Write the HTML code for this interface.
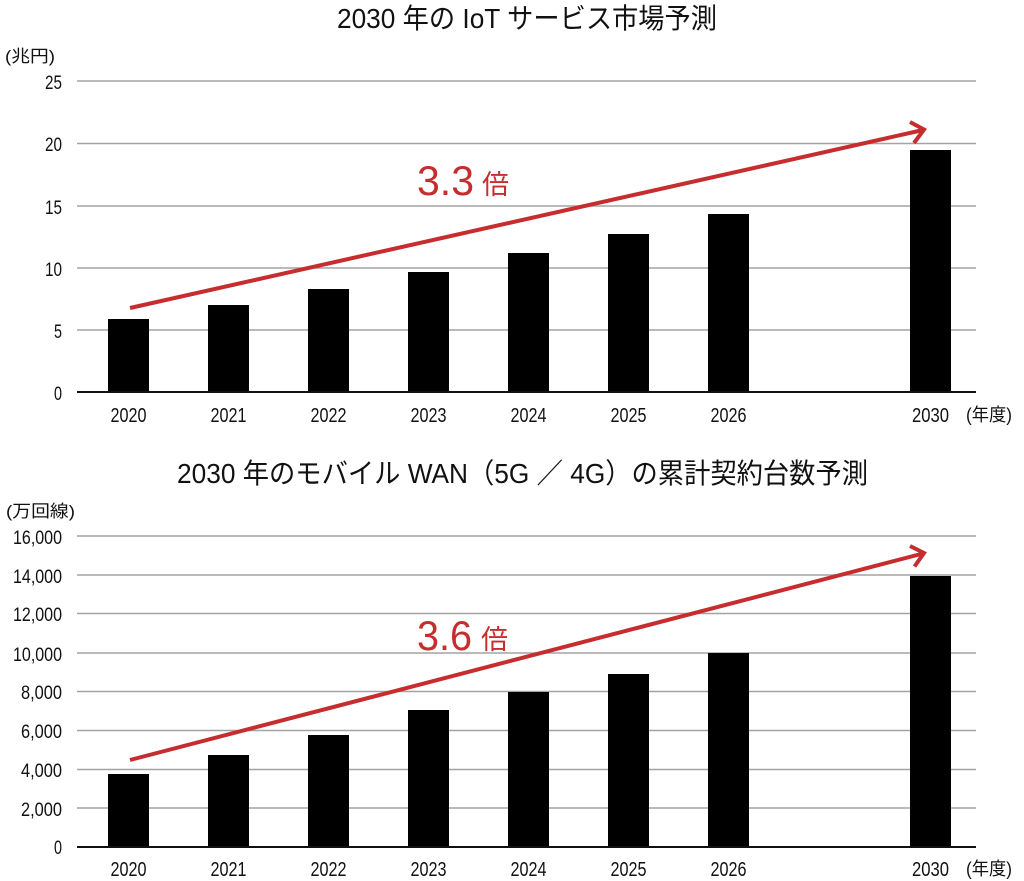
<!DOCTYPE html>
<html>
<head>
<meta charset="utf-8">
<style>
html,body{margin:0;padding:0;background:#fff;}
svg{display:block;}
text{font-family:"Liberation Sans","Noto Sans CJK JP",sans-serif;}
</style>
</head>
<body>
<svg width="1024" height="881" viewBox="0 0 1024 881" xmlns="http://www.w3.org/2000/svg">
  <rect width="1024" height="881" fill="#fff"/>

  <!-- ===== TOP CHART ===== -->
  <text x="337" y="28" font-size="28" fill="#111" textLength="380" lengthAdjust="spacingAndGlyphs">2030 年の IoT サービス市場予測</text>
  <text x="5" y="62" font-size="17" fill="#111" textLength="50" lengthAdjust="spacingAndGlyphs">(兆円)</text>

  <g stroke="#a3a3a3" stroke-width="1.5">
    <line x1="77" y1="81" x2="976" y2="81"/>
    <line x1="77" y1="143.5" x2="976" y2="143.5"/>
    <line x1="77" y1="206" x2="976" y2="206"/>
    <line x1="77" y1="268" x2="976" y2="268"/>
    <line x1="77" y1="330" x2="976" y2="330"/>
  </g>

  <g font-size="19" fill="#111" text-anchor="end">
    <text x="62" y="89" textLength="17" lengthAdjust="spacingAndGlyphs">25</text>
    <text x="62" y="151" textLength="17" lengthAdjust="spacingAndGlyphs">20</text>
    <text x="62" y="214" textLength="17" lengthAdjust="spacingAndGlyphs">15</text>
    <text x="62" y="276" textLength="17" lengthAdjust="spacingAndGlyphs">10</text>
    <text x="62" y="338" textLength="8" lengthAdjust="spacingAndGlyphs">5</text>
    <text x="62" y="400" textLength="8" lengthAdjust="spacingAndGlyphs">0</text>
  </g>

  <g fill="#000">
    <rect x="108" y="319" width="41" height="73"/>
    <rect x="208" y="305" width="41" height="87"/>
    <rect x="308" y="289" width="41" height="103"/>
    <rect x="408" y="272" width="41" height="120"/>
    <rect x="508" y="253" width="41" height="139"/>
    <rect x="608" y="234" width="41" height="158"/>
    <rect x="708" y="214" width="41" height="178"/>
    <rect x="910" y="150" width="41" height="242"/>
  </g>
  <line x1="77" y1="392" x2="976" y2="392" stroke="#111" stroke-width="2"/>

  <g font-size="20" fill="#111" text-anchor="middle">
    <text x="128.5" y="422" textLength="36" lengthAdjust="spacingAndGlyphs">2020</text>
    <text x="228.5" y="422" textLength="36" lengthAdjust="spacingAndGlyphs">2021</text>
    <text x="328.5" y="422" textLength="36" lengthAdjust="spacingAndGlyphs">2022</text>
    <text x="428.5" y="422" textLength="36" lengthAdjust="spacingAndGlyphs">2023</text>
    <text x="528.5" y="422" textLength="36" lengthAdjust="spacingAndGlyphs">2024</text>
    <text x="628.5" y="422" textLength="36" lengthAdjust="spacingAndGlyphs">2025</text>
    <text x="728.5" y="422" textLength="36" lengthAdjust="spacingAndGlyphs">2026</text>
    <text x="930.5" y="422" textLength="37" lengthAdjust="spacingAndGlyphs">2030</text>
  </g>
  <text x="966" y="421" font-size="18" fill="#111" textLength="46" lengthAdjust="spacingAndGlyphs">(年度)</text>

  <!-- arrow top -->
  <g stroke="#c62d2e" stroke-width="4" fill="none" stroke-linecap="butt" stroke-linejoin="miter">
    <line x1="130" y1="308" x2="923" y2="130"/>
    <polyline points="910,122 924,129.5 914,143"/>
  </g>
  <text x="417" y="195" font-size="42" fill="#c62d2e" textLength="57" lengthAdjust="spacingAndGlyphs">3.3</text>
  <text x="482" y="194" font-size="27" fill="#c62d2e">倍</text>

  <!-- ===== BOTTOM CHART ===== -->
  <text x="177" y="483" font-size="28" fill="#111" textLength="691" lengthAdjust="spacingAndGlyphs">2030 年のモバイル WAN（5G ／ 4G）の累計契約台数予測</text>
  <text x="6" y="517" font-size="17" fill="#111" textLength="69" lengthAdjust="spacingAndGlyphs">(万回線)</text>

  <g stroke="#a3a3a3" stroke-width="1.5">
    <line x1="77" y1="536" x2="976" y2="536"/>
    <line x1="77" y1="575" x2="976" y2="575"/>
    <line x1="77" y1="613.5" x2="976" y2="613.5"/>
    <line x1="77" y1="653" x2="976" y2="653"/>
    <line x1="77" y1="691.5" x2="976" y2="691.5"/>
    <line x1="77" y1="730.5" x2="976" y2="730.5"/>
    <line x1="77" y1="769.5" x2="976" y2="769.5"/>
    <line x1="77" y1="808" x2="976" y2="808"/>
  </g>

  <g font-size="19" fill="#111" text-anchor="end">
    <text x="62" y="544" textLength="49" lengthAdjust="spacingAndGlyphs">16,000</text>
    <text x="62" y="583" textLength="49" lengthAdjust="spacingAndGlyphs">14,000</text>
    <text x="62" y="621" textLength="49" lengthAdjust="spacingAndGlyphs">12,000</text>
    <text x="62" y="661" textLength="49" lengthAdjust="spacingAndGlyphs">10,000</text>
    <text x="62" y="699" textLength="41" lengthAdjust="spacingAndGlyphs">8,000</text>
    <text x="62" y="738" textLength="41" lengthAdjust="spacingAndGlyphs">6,000</text>
    <text x="62" y="777" textLength="41" lengthAdjust="spacingAndGlyphs">4,000</text>
    <text x="62" y="816" textLength="41" lengthAdjust="spacingAndGlyphs">2,000</text>
    <text x="62" y="854" textLength="8" lengthAdjust="spacingAndGlyphs">0</text>
  </g>

  <g fill="#000">
    <rect x="108" y="774" width="41" height="73"/>
    <rect x="208" y="755" width="41" height="92"/>
    <rect x="308" y="735" width="41" height="112"/>
    <rect x="408" y="710" width="41" height="137"/>
    <rect x="508" y="692" width="41" height="155"/>
    <rect x="608" y="674" width="41" height="173"/>
    <rect x="708" y="653" width="41" height="194"/>
    <rect x="910" y="576" width="41" height="271"/>
  </g>
  <line x1="77" y1="847" x2="976" y2="847" stroke="#111" stroke-width="2"/>

  <g font-size="20" fill="#111" text-anchor="middle">
    <text x="128.5" y="876" textLength="36" lengthAdjust="spacingAndGlyphs">2020</text>
    <text x="228.5" y="876" textLength="36" lengthAdjust="spacingAndGlyphs">2021</text>
    <text x="328.5" y="876" textLength="36" lengthAdjust="spacingAndGlyphs">2022</text>
    <text x="428.5" y="876" textLength="36" lengthAdjust="spacingAndGlyphs">2023</text>
    <text x="528.5" y="876" textLength="36" lengthAdjust="spacingAndGlyphs">2024</text>
    <text x="628.5" y="876" textLength="36" lengthAdjust="spacingAndGlyphs">2025</text>
    <text x="728.5" y="876" textLength="36" lengthAdjust="spacingAndGlyphs">2026</text>
    <text x="930.5" y="876" textLength="37" lengthAdjust="spacingAndGlyphs">2030</text>
  </g>
  <text x="966" y="875" font-size="18" fill="#111" textLength="46" lengthAdjust="spacingAndGlyphs">(年度)</text>

  <!-- arrow bottom -->
  <g stroke="#c62d2e" stroke-width="4" fill="none" stroke-linecap="butt" stroke-linejoin="miter">
    <line x1="130" y1="760" x2="923" y2="553.5"/>
    <polyline points="910,546 924,553 914.5,566.5"/>
  </g>
  <text x="417" y="650" font-size="42" fill="#c62d2e" textLength="55" lengthAdjust="spacingAndGlyphs">3.6</text>
  <text x="481" y="649" font-size="27" fill="#c62d2e">倍</text>
</svg>
</body>
</html>
